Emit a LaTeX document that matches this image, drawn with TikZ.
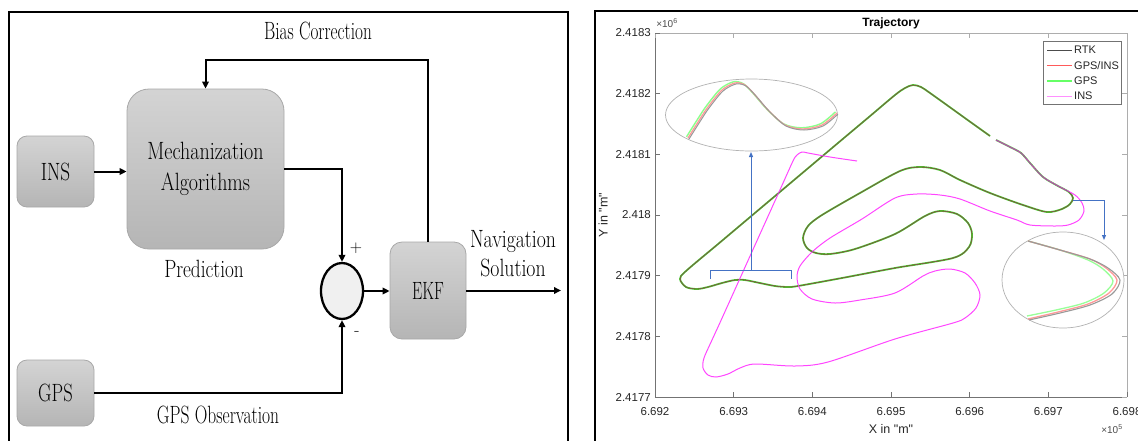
\documentclass[tikz,border=0pt]{standalone}
\usepackage{fontspec}
\usepackage{graphicx}
\newfontfamily\plotfont{Liberation Sans}
\usetikzlibrary{shapes.geometric,arrows.meta}
\newcommand\nar[2][0.77]{\scalebox{#1}[1]{#2}}
\definecolor{boxedge}{gray}{0.66}
\definecolor{boxtop}{gray}{0.83}
\definecolor{boxbot}{gray}{0.71}
\definecolor{sumfill}{gray}{0.94}
\definecolor{bluearr}{RGB}{68,114,196}
\definecolor{gpsgreen}{RGB}{70,205,50}
\definecolor{insmag}{RGB}{255,70,255}
\definecolor{legred}{RGB}{255,90,90}
\definecolor{axgray}{gray}{0.45}
\definecolor{axlight}{gray}{0.68}
\begin{document}
\begin{tikzpicture}[x=1pt,y=-1pt,
  blk/.style={draw=boxedge, line width=0.8pt, top color=boxtop, bottom color=boxbot,
    inner sep=0pt, font=\fontsize{25}{31}\selectfont, align=center},
  lab/.style={inner sep=0pt, font=\fontsize{25}{31}\selectfont},
  conn/.style={line width=2pt, -{Triangle[length=7pt,width=6.5pt]}},
  tlab/.style={inner sep=0pt, font=\plotfont\fontsize{11.5}{13}\selectfont, text=black!85},
  leg/.style={inner sep=0pt, anchor=west, font=\plotfont\fontsize{11}{13}\selectfont, text=black!85},
  zoomell/.style={draw=black!30, line width=0.7pt, fill=white}
]
\useasboundingbox (0,0) rectangle (1138,440);

% ---------------- left panel ----------------
\draw[line width=1.8pt] (9,445) -- (9,12) -- (568,12) -- (568,445);

\node[blk, minimum width=77pt, minimum height=71pt, rounded corners=10pt] (ins) at (55.5,171.5) {\nar[0.77]{INS}};
\node[blk, minimum width=77pt, minimum height=66pt, rounded corners=10pt] (gps) at (55.5,393) {\nar[0.74]{GPS}};
\node[blk, minimum width=157pt, minimum height=160pt, rounded corners=22pt] (mech) at (205.5,169) {\nar[0.8]{Mechanization}\\\nar[0.8]{Algorithms}};
\node[blk, minimum width=76pt, minimum height=97pt, rounded corners=12pt] (ekf) at (428,290.5) {\nar[0.65]{EKF}};
\node[ellipse, draw=black, line width=2.3pt, fill=sumfill, minimum width=42pt, minimum height=56pt, inner sep=0pt] (sum) at (342,291) {};

\coordinate (fb) at (428,60);
\coordinate (navout) at (561,290.5);

\draw[conn] (ins.east) -- (ins.east -| mech.west);
\draw[conn] (mech.east) -| (sum.north);
\draw[conn] (gps.east) -| (sum.south);
\draw[conn] (sum.east) -- (sum.east -| ekf.west);
\draw[conn] (ekf.north) -- (fb) -| (mech.north);
\draw[conn] (ekf.east) -- (navout);

\node[lab, anchor=base] (bias) at (318,39.5) {\nar[0.69]{Bias Correction}};
\node[lab, anchor=base] (pred) at (204,277) {\nar[0.77]{Prediction}};
\node[lab, anchor=base] (obs) at (218,423) {\nar[0.70]{GPS Observation}};
\node[lab, anchor=base] (nav1) at (513,247) {\nar[0.79]{Navigation}};
\node[lab, anchor=base] (nav2) at (513,276) {\nar[0.79]{Solution}};
\node[inner sep=0pt, font=\fontsize{17}{20}\selectfont] (plus) at (356,248) {+};
\node[inner sep=0pt, font=\fontsize{17}{20}\selectfont] (minus) at (357,333) {-};

% ---------------- right panel ----------------
\draw[line width=1.8pt] (595,445) -- (595,11) -- (1145,11);

% axes box
\draw[axlight, line width=0.6pt] (655,33) -- (1127,33) -- (1127,397);
\draw[axgray, line width=0.8pt] (655,33) -- (655,397) -- (1127,397);
\foreach \i/\lab in {0/6.692,1/6.693,2/6.694,3/6.695,4/6.696,5/6.697,6/6.698}{
  \pgfmathsetmacro\xx{655+\i*78.67}
  \draw[axgray, line width=0.6pt] (\xx,397) -- (\xx,392);
  \draw[axlight, line width=0.6pt] (\xx,33) -- (\xx,38);
  \node[tlab] (xt\i) at (\xx,412) {\lab};
}
\foreach \i/\lab in {0/2.4177,1/2.4178,2/2.4179,3/2.418,4/2.4181,5/2.4182,6/2.4183}{
  \pgfmathsetmacro\yy{397-\i*60.67}
  \draw[axgray, line width=0.6pt] (655,\yy) -- (660,\yy);
  \draw[axlight, line width=0.6pt] (1127,\yy) -- (1122,\yy);
  \node[tlab, anchor=east] (yt\i) at (651,\yy) {\lab};
}
\node[inner sep=0pt, font=\plotfont\fontsize{12.5}{14}\selectfont, text=black!85] (xlab) at (891,429) {X in "m"};
\node[inner sep=0pt, font=\plotfont\fontsize{12.5}{14}\selectfont, text=black!85, rotate=90] (ylab) at (603,215) {Y in "m"};
\node[inner sep=0pt, font=\plotfont\bfseries\fontsize{12}{14}\selectfont] (title) at (891,23) {Trajectory};
\node[inner sep=0pt, font=\plotfont\fontsize{10}{12}\selectfont, text=black!70] (e6) at (667,23) {×10\textsuperscript{6}};
\node[inner sep=0pt, font=\plotfont\fontsize{10}{12}\selectfont, text=black!70] (e5) at (1112,429) {×10\textsuperscript{5}};

% trajectories
\def\mainpath{(996,140) (1010,147) (1021,153) (1030,163) (1043,177) (1058,186) (1069,192) (1073,198) (1070,204) (1062,209) (1047,212) (1023,205) (990,193) (960,180) (940,170) (920,167) (900,171) (860,193) (822,215) (808,226) (803,238) (807,248) (816,253) (830,254) (855,249) (895,234) (925,216) (940,211) (957,214) (968,223) (972,234) (969,247) (953,258) (895,268) (842,278) (798,286) (788,287) (775,286) (755,282) (745,280) (735,280) (722,283) (708,287) (697,289) (686,287) (680,279) (686,271) (720,242.4) (760,208.7) (800,175) (840,141.3) (870,116.1) (895,95) (905,88) (913,85) (921,87) (930,93) (950,107.3) (970,121.7) (990,136)}
\draw[gpsgreen, line width=1.8pt] plot[smooth, tension=0.5] coordinates {\mainpath};
\draw[red!80!black, line width=0.35pt] plot[smooth, tension=0.5] coordinates {\mainpath};
\draw[insmag, line width=1pt] plot[smooth, tension=0.5] coordinates {(996,140) (1010,147) (1021,153) (1030,163) (1043,177) (1060,187) (1075,195) (1082,203) (1084,211) (1079,220) (1068,225) (1055,226) (1030,225) (1017,220) (990,211) (960,199) (940,195) (917,194) (895,198) (862,219) (830,238) (812,252) (800,266) (797,277) (800,289) (812,299) (835,303) (860,300) (895,293) (923,276) (935,271) (950,269) (965,273) (975,283) (980,295) (976,308) (965,318) (953,323) (895,339) (828,362) (795,366) (755,364) (740,368) (728,374) (716,377) (708,375) (703,368) (704,358) (712,340) (720,322.6) (740,278.3) (760,234) (780,189.8) (793,161) (797,155) (802,152) (808,153) (830,157) (857,161)};
\draw[black!60, line width=0.35pt] plot[smooth, tension=0.5] coordinates {\mainpath};

% zoom ellipses
\draw[zoomell] (751.5,115) ellipse [x radius=86, y radius=36];
\draw[green!45, line width=1.4pt] plot[smooth] coordinates {(686.5,136.8) (698.5,117.8) (706.5,105.8) (720.5,88.8) (733.5,81.8) (743.5,83.8) (753.5,93.8) (766.5,108.8) (783.5,123.8) (801.5,127.8) (820.5,123.8) (835.5,111.8)};
\draw[red!40, line width=1.3pt] plot[smooth] coordinates {(688,138) (700,119) (708,107) (722,90) (735,83) (745,85) (755,95) (768,110) (785,125) (803,129) (822,125) (837,113)};
\draw[black!40, line width=1pt] plot[smooth] coordinates {(689,139) (701,120) (709,108) (723,91) (736,84) (746,86) (756,96) (769,111) (786,126) (804,130) (823,126) (838,114)};

\draw[zoomell] (1063,280) ellipse [x radius=61, y radius=48];
\draw[green!40, line width=1.3pt] plot[smooth] coordinates {(1028,241) (1060,250) (1088,260) (1103,269) (1113,281) (1104,293) (1084,303) (1056,310) (1027,316)};
\draw[red!40, line width=1.3pt] plot[smooth] coordinates {(1028,241) (1060,250) (1090,259) (1106,268) (1117,280) (1109,293) (1088,304) (1058,312) (1028,319)};
\draw[black!40, line width=1.1pt] plot[smooth] coordinates {(1028,241) (1060,250) (1090,259) (1108,268) (1120,280) (1112,294) (1090,305) (1060,313) (1029,320)};

% blue annotations
\coordinate (brL) at (710,279);
\coordinate (brR) at (791,279);
\coordinate (brM) at (751,270);
\coordinate (zt) at (751,152);
\draw[bluearr, line width=1pt] (brL) -- (710,270) -- (791,270) -- (brR);
\draw[bluearr, line width=1pt, -{Triangle[length=5pt,width=4pt]}] (brM) -- (zt);
\coordinate (rs) at (1073,200);
\coordinate (re) at (1104,240);
\draw[bluearr, line width=1pt, -{Triangle[length=5pt,width=4pt]}] (rs) -| (re);

% legend
\draw[axgray, line width=0.6pt, fill=white] (1043,41) rectangle (1121,104);
\draw[black!70, line width=0.6pt] (1047,50) -- (1072,50);
\node[leg] (l1) at (1074,50) {RTK};
\draw[legred, line width=1pt] (1047,65.5) -- (1072,65.5);
\node[leg] (l2) at (1074,65.5) {GPS/INS};
\draw[green!60, line width=1.4pt] (1047,81) -- (1072,81);
\node[leg] (l3) at (1074,81) {GPS};
\draw[insmag!60, line width=1pt] (1047,96) -- (1072,96);
\node[leg] (l4) at (1074,96) {INS};
\end{tikzpicture}
\end{document}
